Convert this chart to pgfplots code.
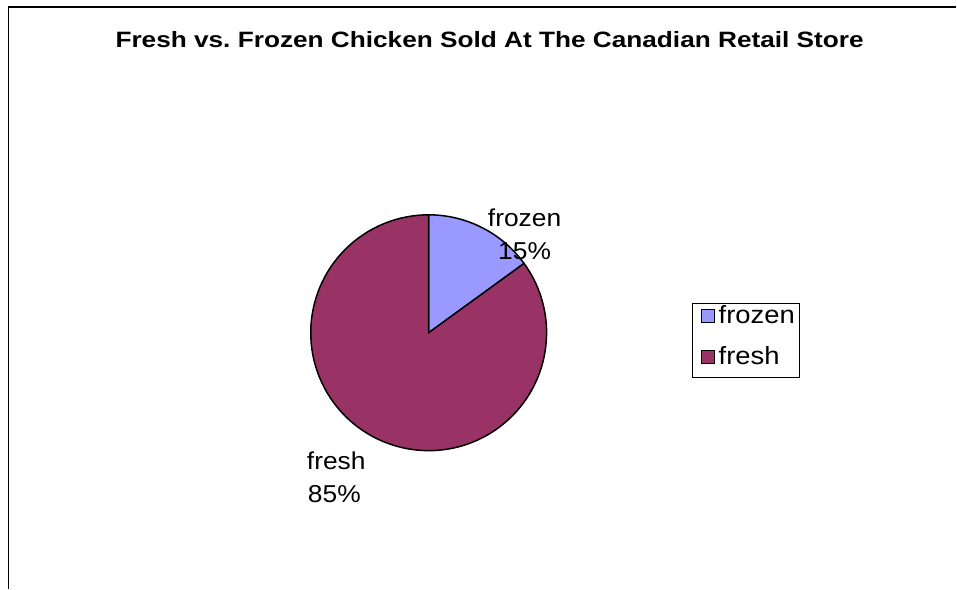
\documentclass[border=0pt]{standalone}
\usepackage{pgfplots}
\pgfplotsset{compat=1.18}
\usepackage{pgfplotstable}
\usepackage{fontspec}
\setmainfont{Liberation Sans}
\newfontfamily\titlefont[FakeStretch=1.18]{Liberation Sans}
\newfontfamily\labelfont[FakeStretch=1.08]{Liberation Sans}
\newfontfamily\legfont[FakeStretch=1.1]{Liberation Sans}
\definecolor{frozenc}{HTML}{9999FF}
\definecolor{freshc}{HTML}{993366}
\frenchspacing
\pgfplotstableread{
name value
frozen 15
fresh 85
}\piedata
\pgfplotstablegetelem{0}{value}\of\piedata \let\vfrozen\pgfplotsretval
\pgfplotstablegetelem{1}{value}\of\piedata \let\vfresh\pgfplotsretval
\pgfmathsetmacro{\total}{\vfrozen+\vfresh}
\pgfmathsetmacro{\aA}{90}
\pgfmathsetmacro{\aB}{90-\vfrozen/\total*360}
\pgfmathsetmacro{\aC}{\aB-\vfresh/\total*360}
\begin{document}
\begin{tikzpicture}
\begin{axis}[
  x=1bp, y=1bp, xmin=0, xmax=957, ymin=0, ymax=589,
  y dir=reverse, hide axis, clip=false, scale only axis,
]
\path (axis cs:0,0) rectangle (axis cs:957,589);
\draw[line width=1.5bp] (axis cs:8.5,589) -- (axis cs:8.5,7) -- (axis cs:957,7);
\node[anchor=base, font=\titlefont\fontsize{22.3}{26}\selectfont\bfseries] at (axis cs:490,47.5) {Fresh vs. Frozen Chicken Sold At The Canadian Retail Store};
% pie slices
\filldraw[fill=frozenc, draw=black, line width=1.5bp] (axis cs:429,333) -- ++(\aA:118bp) arc[start angle=\aA, end angle=\aB, radius=118bp] -- cycle;
\filldraw[fill=freshc, draw=black, line width=1.5bp] (axis cs:429,333) -- ++(\aB:118bp) arc[start angle=\aB, end angle=\aC, radius=118bp] -- cycle;
% data labels
\node[anchor=base, font=\labelfont\fontsize{24.5}{30}\selectfont] at (axis cs:525,227) {frozen};
\node[anchor=base, font=\labelfont\fontsize{24.5}{30}\selectfont] at (axis cs:525,260) {15\%};
\node[anchor=base west, font=\labelfont\fontsize{24.5}{30}\selectfont, inner sep=0pt] at (axis cs:307,470) {fresh};
\node[anchor=base west, font=\labelfont\fontsize{24.5}{30}\selectfont, inner sep=0pt] at (axis cs:308,503) {85\%};
% legend
\draw[line width=1bp] (axis cs:693,304) rectangle (axis cs:800,378);
\filldraw[fill=frozenc, draw=black, line width=1.2bp] (axis cs:702,310) rectangle (axis cs:715,323);
\filldraw[fill=freshc, draw=black, line width=1.2bp] (axis cs:702,351) rectangle (axis cs:715,364);
\node[anchor=base west, font=\legfont\fontsize{25}{30}\selectfont, inner sep=0pt] at (axis cs:719,324) {frozen};
\node[anchor=base west, font=\legfont\fontsize{25}{30}\selectfont, inner sep=0pt] at (axis cs:719,365) {fresh};
\end{axis}
\end{tikzpicture}
\end{document}
